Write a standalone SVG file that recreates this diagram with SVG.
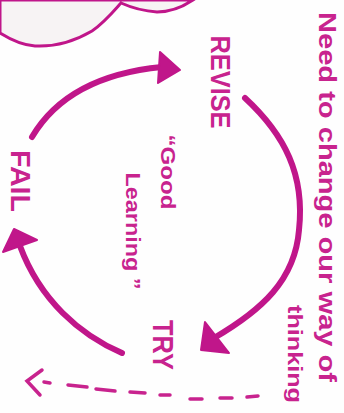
<svg xmlns="http://www.w3.org/2000/svg" width="344" height="413" viewBox="0 0 344 413">
<style>
.lbl{fill:#c8238e;font-family:"Liberation Sans",Arial,sans-serif;font-weight:bold;text-anchor:middle}
.arr{fill:none;stroke:#c0168a;stroke-width:6;stroke-linecap:round;stroke-linejoin:round}
.head{fill:#c0168a;stroke:#c0168a;stroke-width:2;stroke-linejoin:round}
.dash{fill:none;stroke:#c8238e;stroke-width:3.5;stroke-linecap:round}
</style>
<rect x="0" y="0" width="344" height="413" fill="#fefefe"/>
<g id="cloud">
<path d="M0,33 C8,38 20,45 35,46 C55,47 75,41 92,31 C104,23 113,12 121,3 C130,7 142,11 157,12 C172,12 184,6 193,0 L0,0 Z" fill="#f7f3f4" stroke="#c0168a" stroke-width="3"/>
</g>
<g id="connectors">
<path class="arr" d="M32,137 Q68,76 162,67"/>
<polygon class="head" points="160,52 180,70 158,83"/>
<path class="arr" d="M245,98 C285,135 305,175 299,230 C295,280 262,310 214,338"/>
<polygon class="head" points="205,322 201,350 229,353"/>
<path class="arr" d="M122,353 C80,335 40,300 20,246"/>
<polygon class="head" points="3,252 14,229 37,240"/>
<g id="dashed-arrow">
<polyline class="dash" points="42,370 27,381 40,395"/>
<line class="dash" x1="44" y1="382" x2="50" y2="383"/>
<line class="dash" x1="68" y1="385" x2="87" y2="387"/>
<line class="dash" x1="96" y1="389" x2="115" y2="391"/>
<line class="dash" x1="130" y1="392" x2="145" y2="393"/>
<line class="dash" x1="160" y1="395" x2="170" y2="395"/>
<line class="dash" x1="190" y1="399" x2="202" y2="399"/>
<line class="dash" x1="220" y1="398" x2="232" y2="398"/>
<line class="dash" x1="247" y1="397" x2="258" y2="396"/>
</g>
</g>
<g id="revise"><text class="lbl" font-size="28" textLength="93" lengthAdjust="spacingAndGlyphs" transform="translate(211,82) rotate(90)">REVISE</text></g>
<g id="fail"><text class="lbl" font-size="28" textLength="62" lengthAdjust="spacingAndGlyphs" transform="translate(11,181) rotate(90)">FAIL</text></g>
<g id="try"><text class="lbl" font-size="30" textLength="50" lengthAdjust="spacingAndGlyphs" transform="translate(153,345) rotate(90)">TRY</text></g>
<g id="good-learning">
<text class="lbl" font-size="20" textLength="75" lengthAdjust="spacingAndGlyphs" transform="translate(161,172) rotate(90)">“Good</text>
<text class="lbl" font-size="21" textLength="117" lengthAdjust="spacingAndGlyphs" transform="translate(126,231) rotate(90)">Learning ”</text>
</g>
<g id="note">
<text class="lbl" font-size="23" textLength="370" lengthAdjust="spacingAndGlyphs" transform="translate(319,197) rotate(90)">Need to change our way of</text>
<text class="lbl" font-size="21" textLength="98" lengthAdjust="spacingAndGlyphs" transform="translate(288,354) rotate(90)">thinking</text>
</g>
</svg>
